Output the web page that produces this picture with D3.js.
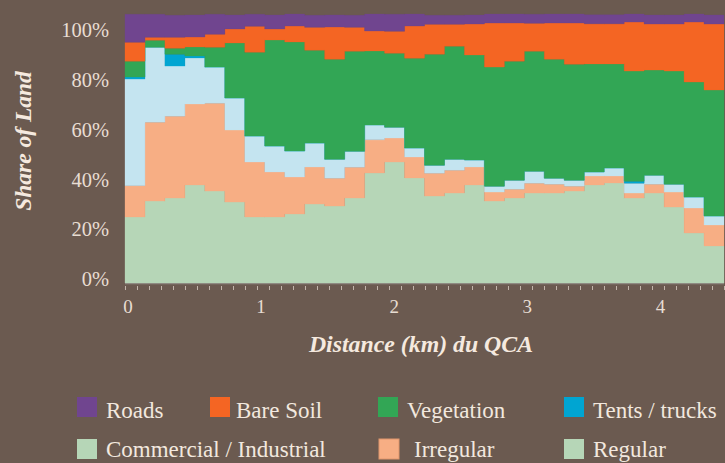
<!DOCTYPE html>
<html><head><meta charset="utf-8">
<script src="https://cdn.jsdelivr.net/npm/d3@7"></script>
<style>html,body{margin:0;padding:0;background:#6b5a50;} svg{display:block;font-family:"Liberation Serif",serif;}</style>
</head><body><svg id="c" width="725" height="463"></svg>
<script>
// bin start distance (km)
const distance = [0,0.15,0.3,0.45,0.6,0.75,0.9,1.05,1.2,1.35,1.5,1.65,1.8,1.95,2.1,2.25,2.4,2.55,2.7,2.85,3.0,3.15,3.3,3.45,3.6,3.75,3.9,4.05,4.2,4.35];
const regular    = [26.5,32.9,34.1,39.4,36.9,32.5,26.5,26.5,27.7,31.7,30.9,34.1,44.2,48.6,42.2,34.9,36.1,39.4,32.9,34.1,36.1,36.1,36.9,39.4,40.2,34.1,36.1,30.5,20.1,14.9];
const irregular  = [12.6,31.7,32.9,32.5,35.3,28.9,22.1,18.1,14.9,14.9,11.2,12.4,13.3,9.6,8.4,9.2,9.2,7.2,3.6,3.6,4.0,3.6,2.0,3.6,2.8,2.0,3.6,6.0,10.0,8.4];
const commercial = [42.8,30.1,20.1,18.5,14.5,12.9,10.4,10.4,10.4,9.6,7.6,6.4,6.0,4.4,3.6,3.2,4.4,2.8,2.4,3.6,4.8,2.4,2.4,1.6,3.2,4.0,3.6,3.2,4.4,3.6];
const tents      = [0.8,0,4.8,0.8,0,0,0,0,0,0,0,0,0,0,0,0,0,0,0,0,0,0,0,0,0,0.8,0,0,0,0];
const vegetation = [6.4,2.8,2.4,3.6,8.0,22.1,33.7,42.6,43.8,37.3,40.2,40.2,29.7,29.7,36.1,44.6,45.4,42.2,47.8,47.8,48.2,47.8,46.6,43.4,41.8,44.2,42.2,45.4,46.2,50.6];
const bare       = [7.6,1.2,4.4,4.0,5.2,5.6,10.4,4.4,6.4,9.2,12.9,9.6,8.0,8.8,12.9,12.0,8.8,12.4,17.7,15.3,11.2,14.5,16.5,16.1,16.1,19.7,18.5,18.9,24.1,26.5];
const roads      = [11.2,9.2,8.8,8.8,8.0,5.6,4.8,5.6,4.8,4.8,4.8,4.8,6.8,6.8,4.8,3.6,3.6,3.6,3.6,3.6,3.6,3.6,3.6,3.6,3.6,3.2,3.6,3.6,3.2,3.6];

const yTicks = [0,20,40,60,80,100];
const xTicks = [0,1,2,3,4];
const legendRow1 = ["Roads","Bare Soil","Vegetation","Tents / trucks"];
const legendRow2 = ["Commercial / Industrial","Irregular","Regular"];

const keys = ["regular","irregular","commercial","tents","vegetation","bare","roads"];
const colors = {regular:"#b6d6b7", irregular:"#f7ae84", commercial:"#c4e4f0", tents:"#00a5d2",
  vegetation:"#32a655", bare:"#f46523", roads:"#70458f"};
const cols = {regular, irregular, commercial, tents, vegetation, bare, roads};

const rows = distance.map((d,i)=>{ const r={distance:d}; keys.forEach(k=>r[k]=cols[k][i]); return r; });
const step = distance[1]-distance[0];
const lastRow = Object.assign({}, rows[rows.length-1], {distance: rows[rows.length-1].distance+step});
const stackRows = rows.concat([lastRow]);
const series = d3.stack().keys(keys)(stackRows);

const svg = d3.select("#c");
const x = d3.scaleLinear().domain([0, lastRow.distance]).range([125,724]);
const y = d3.scaleLinear().domain([0,100]).range([283,34]);

const area = d3.area().curve(d3.curveStepAfter)
  .x(d=>x(d.data.distance)).y0(d=>y(d[0])).y1(d=>y(d[1]));

svg.append("g").selectAll("path").data(series).join("path")
  .attr("d", area).attr("fill", d=>colors[d.key]).attr("stroke", d=>colors[d.key]).attr("stroke-width",0.3);

// x axis line
svg.append("line").attr("x1",x(0)).attr("x2",x(lastRow.distance)).attr("y1",283.6).attr("y2",283.6)
  .attr("stroke","#8e8b82").attr("stroke-width",1.3);
// minor ticks
svg.append("g").selectAll("line").data(d3.range(0, lastRow.distance+1e-9, 0.09)).join("line")
  .attr("x1",d=>Math.round(x(d))+0.5).attr("x2",d=>Math.round(x(d))+0.5).attr("y1",286).attr("y2",290)
  .attr("stroke","#d8ccc2").attr("stroke-width",1).attr("opacity",0.8);
// x tick labels
svg.append("g").selectAll("text").data(xTicks).join("text")
  .attr("x",d=>x(d)+3).attr("y",313).attr("text-anchor","middle")
  .attr("fill","#e8ddd3").attr("font-size",19).text(d=>d);
// y tick labels
svg.append("g").selectAll("text").data(yTicks).join("text")
  .attr("x",109).attr("y",d=>y(d)-4).attr("dy","0.35em").attr("text-anchor","end")
  .attr("fill","#e8ddd3").attr("font-size",20.5).text(d=>d+"%");

// titles
svg.append("text").attr("transform","translate(31,141) rotate(-90)").attr("text-anchor","middle")
  .attr("fill","#f5e9df").attr("font-size",23.5).attr("font-weight","bold").attr("font-style","italic")
  .text("Share of Land");
svg.append("text").attr("x",421).attr("y",352).attr("text-anchor","middle")
  .attr("fill","#f5e9df").attr("font-size",23.8).attr("font-weight","bold").attr("font-style","italic")
  .text("Distance (km) du QCA");

// legend
const leg1 = [
  {label:legendRow1[0], color:colors.roads, sx:77, tx:106},
  {label:legendRow1[1], color:colors.bare, sx:210, tx:236},
  {label:legendRow1[2], color:colors.vegetation, sx:378, tx:407},
  {label:legendRow1[3], color:colors.tents, sx:564, tx:593}
];
const leg2 = [
  {label:legendRow2[0], color:colors.regular, sx:77, tx:106},
  {label:legendRow2[1], color:colors.irregular, sx:379, tx:414, stroke:"#e0966c"},
  {label:legendRow2[2], color:colors.regular, sx:564, tx:593}
];
function drawLegend(items, top, base){
  const g = svg.append("g");
  items.forEach(it=>{
    g.append("rect").attr("x",it.sx).attr("y",top).attr("width",20).attr("height",20)
      .attr("fill",it.color).attr("stroke",it.stroke||"none").attr("stroke-width",1);
    g.append("text").attr("x",it.tx).attr("y",base).attr("fill","#f2e8df")
      .attr("font-size",23).text(it.label);
  });
}
drawLegend(leg1, 397, 418);
drawLegend(leg2, 439, 457);
</script></body></html>
